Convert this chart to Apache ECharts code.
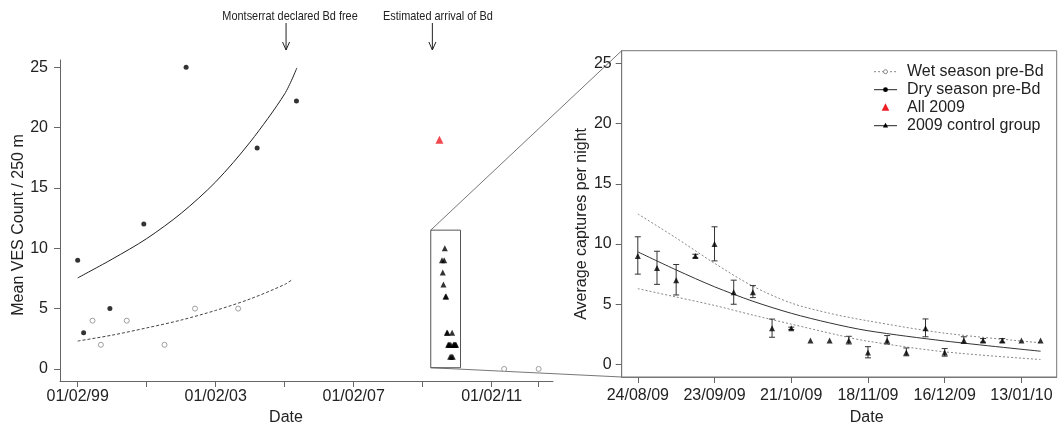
<!DOCTYPE html>
<html><head><meta charset="utf-8">
<script src="https://cdn.jsdelivr.net/npm/echarts@6/dist/echarts.min.js"></script>
<style>html,body{margin:0;padding:0;background:#fff}#c{width:1064px;height:431px}</style>
</head><body><div id="c"></div>
<script>
// ---------- Left panel data ----------
const dryDates = ['1999-02-01','1999-04-05','2000-01-08','2001-01-01','2002-03-25','2004-04-15','2005-06-05'];
const dryValues = [9, 3, 5, 12, 25, 18.3, 22.2];
const wetDates = ['1999-07-08','1999-10-05','2000-07-05','2001-08-08','2002-06-27','2003-09-27','2011-06-13','2012-06-12'];
const wetValues = [4, 2, 4, 2, 5, 5, 0, 0];
const dryFitDates = ['1999-02-01','2000-02-01','2001-02-01','2002-02-01','2003-02-01','2004-02-01','2005-02-01','2005-06-10'];
const dryFitValues = [7.54, 9.1, 10.8, 12.9, 15.5, 18.8, 22.8, 24.95];
const wetFitDates = ['1999-02-01','2000-02-01','2001-02-01','2002-02-01','2003-02-01','2004-02-01','2005-02-01','2005-04-20'];
const wetFitValues = [2.31, 2.8, 3.4, 4.05, 4.85, 5.8, 7.0, 7.4];
const all2009Dates = ['2009-07-28'];
const all2009Values = [19];
const leftTickDates = ['1999-02-01','2001-02-01','2003-02-01','2005-02-01','2007-02-01','2009-02-01','2011-02-01','2012-06-12'];
const leftLabelDates = ['1999-02-01','2003-02-01','2007-02-01','2011-02-01'];
const leftLabels = ['01/02/99','01/02/03','01/02/07','01/02/11'];
const leftYTicks = [0, 5, 10, 15, 20, 25];
const eventNames = ['Montserrat declared Bd free', 'Estimated arrival of Bd'];
const eventDates = ['2005-02-15', '2009-05-14'];
const insetDates = ['2009-04-27', '2010-03-08'];
const insetValues = [0.1, 11.5];

// ---------- Right panel data (2009 control group) ----------
const ctrlDates = ['2009-08-24','2009-09-01','2009-09-08','2009-09-16','2009-09-23','2009-09-30','2009-10-07','2009-10-14',
  '2009-10-21','2009-10-28','2009-11-04','2009-11-11','2009-11-18','2009-11-25','2009-12-02','2009-12-09','2009-12-16',
  '2009-12-23','2009-12-30','2010-01-06','2010-01-13','2010-01-20'];
const ctrlIndex = [0,1,2,3,4,5,6,7,8,9,10,11,12,13,14,15,16,17,18,19,20,21];
const ctrlValues = [9, 8, 7, 9, 10, 6, 6, 3, 3, 2, 2, 2, 1, 2, 1, 3, 1, 2, 2, 2, 2, 2];
const ctrlLow  = [7.5, 6.65, 5.77, 8.85, 8.6, 5.0, 5.55, 2.26, 2.9, null, null, 1.7, 0.55, 1.7, 0.72, 2.3, 0.69, 1.75, 1.85, 1.85, null, null];
const ctrlHigh = [10.6, 9.4, 8.3, 9.15, 11.43, 7.0, 6.55, 3.77, 3.1, null, null, 2.34, 1.48, 2.4, 1.37, 3.78, 1.32, 2.3, 2.15, 2.15, null, null];
const rightTickIdx = [0, 4, 8, 12, 16, 20];
const rightLabels = ['24/08/09','23/09/09','21/10/09','18/11/09','16/12/09','13/01/10'];
const rightYTicks = [0, 5, 10, 15, 20, 25];
const fitMidIdx = [0, 2, 4, 6, 8, 10, 12, 16, 21];
const fitMidValues = [9.35, 7.85, 6.45, 5.25, 4.25, 3.45, 2.8, 1.95, 1.1];
const fitUpIdx = [0, 2, 4, 6, 8, 10, 12, 16, 21];
const fitUpValues = [12.5, 10.5, 8.4, 6.5, 5.1, 4.25, 3.62, 2.6, 1.8];
const fitLoIdx = [0, 2, 4, 6, 8, 10.5, 12, 16, 21];
const fitLoValues = [6.3, 5.6, 4.9, 4.1, 3.35, 2.42, 1.93, 1.05, 0.41];

const legendNames = ['Wet season pre-Bd', 'Dry season pre-Bd', 'All 2009', '2009 control group'];

const FONT = '"Liberation Sans", Arial, sans-serif';
const ts = s => { const p = s.split('-').map(Number); return Date.UTC(p[0], p[1] - 1, p[2]); };
const zip = (a, b) => a.map((v, i) => [v, b[i]]);
const AX = '#666';

const chart = echarts.init(document.getElementById('c'), null, {renderer: 'canvas'});

const errData = [];
ctrlIndex.forEach((x, i) => { if (ctrlLow[i] != null) errData.push([x, ctrlLow[i], ctrlHigh[i]]); });

const leftLabelTs = leftLabelDates.map(ts);

const option = {
  animation: false,
  backgroundColor: '#fff',
  grid: [
    {left: 60, top: 60, width: 493, height: 323, show: false},
    {left: 621.7, top: 50.7, width: 435, height: 328.6, show: true, borderColor: '#777', borderWidth: 1, backgroundColor: 'transparent'}
  ],
  xAxis: [
    {
      type: 'value', gridIndex: 0, min: ts('1998-07-29'), max: ts('2012-11-11'),
      axisLine: {show: true, onZero: false, lineStyle: {color: AX, width: 1}},
      axisTick: {show: true, length: 6, lineStyle: {color: AX}, customValues: leftTickDates.map(ts)},
      axisLabel: {show: true, margin: 8, fontSize: 16, color: '#222', fontFamily: FONT,
        customValues: leftLabelTs,
        formatter: v => { const k = leftLabelTs.indexOf(v); return k >= 0 ? leftLabels[k] : ''; }},
      splitLine: {show: false},
      name: 'Date', nameLocation: 'middle', nameGap: 29,
      nameTextStyle: {fontSize: 16, color: '#222', fontFamily: FONT, padding: [0, 41, 0, 0]}
    },
    {
      type: 'value', gridIndex: 1, min: -0.84, max: 21.84,
      axisLine: {show: true, onZero: false, lineStyle: {color: '#777', width: 1}},
      axisTick: {show: true, length: 6, lineStyle: {color: AX}, customValues: rightTickIdx},
      axisLabel: {show: true, margin: 11, fontSize: 16, color: '#222', fontFamily: FONT,
        customValues: rightTickIdx,
        formatter: v => { const k = rightTickIdx.indexOf(v); return k >= 0 ? rightLabels[k] : ''; }},
      splitLine: {show: false},
      name: 'Date', nameLocation: 'middle', nameGap: 33,
      nameTextStyle: {fontSize: 16, color: '#222', fontFamily: FONT, padding: [0, 0, 0, 55]}
    }
  ],
  yAxis: [
    {
      type: 'value', gridIndex: 0, min: -1.0, max: 25.6,
      axisLine: {show: true, onZero: false, lineStyle: {color: AX, width: 1}},
      axisTick: {show: true, length: 6, lineStyle: {color: AX}, customValues: leftYTicks},
      axisLabel: {show: true, margin: 12, fontSize: 16, color: '#222', fontFamily: FONT, customValues: leftYTicks},
      splitLine: {show: false},
      name: 'Mean VES Count / 250 m', nameLocation: 'middle', nameRotate: 90, nameGap: 31,
      nameTextStyle: {fontSize: 16, color: '#222', fontFamily: FONT, padding: [0, 9, 0, 0]}
    },
    {
      type: 'value', gridIndex: 1, min: -1.04, max: 26.05,
      axisLine: {show: true, onZero: false, lineStyle: {color: '#777', width: 1}},
      axisTick: {show: true, length: 6, lineStyle: {color: AX}, customValues: rightYTicks},
      axisLabel: {show: true, margin: 10, fontSize: 16, color: '#222', fontFamily: FONT, customValues: rightYTicks},
      splitLine: {show: false},
      name: 'Average captures per night', nameLocation: 'middle', nameRotate: 90, nameGap: 32,
      nameTextStyle: {fontSize: 16, color: '#222', fontFamily: FONT, padding: [0, 20, 0, 0]}
    }
  ],
  series: [
    {type: 'line', name: 'dryFit', xAxisIndex: 0, yAxisIndex: 0, data: zip(dryFitDates.map(ts), dryFitValues),
      smooth: 0.3, symbol: 'none', lineStyle: {color: '#222', width: 1}, z: 2},
    {type: 'line', name: 'wetFit', xAxisIndex: 0, yAxisIndex: 0, data: zip(wetFitDates.map(ts), wetFitValues),
      smooth: 0.3, symbol: 'none', lineStyle: {color: '#444', width: 1, type: [3, 2]}, z: 2},
    {type: 'scatter', name: legendNames[1], xAxisIndex: 0, yAxisIndex: 0, data: zip(dryDates.map(ts), dryValues),
      symbol: 'circle', symbolSize: 5, itemStyle: {color: '#000'}, z: 3},
    {type: 'scatter', name: legendNames[0], xAxisIndex: 0, yAxisIndex: 0, data: zip(wetDates.map(ts), wetValues),
      symbol: 'circle', symbolSize: 5, itemStyle: {color: '#fff', borderColor: '#888', borderWidth: 1}, z: 3},
    {type: 'scatter', name: legendNames[2], xAxisIndex: 0, yAxisIndex: 0, data: zip(all2009Dates.map(ts), all2009Values),
      symbol: 'triangle', symbolSize: 8, itemStyle: {color: '#ee1c24'}, z: 3},
    {type: 'scatter', name: 'ctrlLeft', xAxisIndex: 0, yAxisIndex: 0, data: zip(ctrlDates.map(ts), ctrlValues),
      symbol: 'triangle', symbolSize: 6, itemStyle: {color: '#000'}, z: 3,
      markArea: {silent: true, itemStyle: {color: 'rgba(0,0,0,0)', borderColor: '#555', borderWidth: 1},
        data: [[{xAxis: ts(insetDates[0]), yAxis: insetValues[0]}, {xAxis: ts(insetDates[1]), yAxis: insetValues[1]}]]}},
    // right panel
    {type: 'line', name: 'upper', xAxisIndex: 1, yAxisIndex: 1, data: zip(fitUpIdx, fitUpValues),
      smooth: 0.3, symbol: 'none', lineStyle: {color: '#888', width: 1, type: [2, 2]}, z: 2},
    {type: 'line', name: 'lower', xAxisIndex: 1, yAxisIndex: 1, data: zip(fitLoIdx, fitLoValues),
      smooth: 0.3, symbol: 'none', lineStyle: {color: '#888', width: 1, type: [2, 2]}, z: 2},
    {type: 'line', name: 'mid', xAxisIndex: 1, yAxisIndex: 1, data: zip(fitMidIdx, fitMidValues),
      smooth: 0.3, symbol: 'none', lineStyle: {color: '#333', width: 1}, z: 2},
    {type: 'custom', name: 'err', xAxisIndex: 1, yAxisIndex: 1, data: errData, z: 3,
      renderItem: (params, api) => {
        const x = api.value(0), lo = api.value(1), hi = api.value(2);
        const p1 = api.coord([x, lo]), p2 = api.coord([x, hi]);
        const w = 3, st = {stroke: '#333', lineWidth: 1};
        return {type: 'group', children: [
          {type: 'line', shape: {x1: p1[0], y1: p1[1], x2: p2[0], y2: p2[1]}, style: st},
          {type: 'line', shape: {x1: p1[0] - w, y1: p1[1], x2: p1[0] + w, y2: p1[1]}, style: st},
          {type: 'line', shape: {x1: p2[0] - w, y1: p2[1], x2: p2[0] + w, y2: p2[1]}, style: st}
        ]};
      }},
    {type: 'scatter', name: legendNames[3], xAxisIndex: 1, yAxisIndex: 1, data: zip(ctrlIndex, ctrlValues),
      symbol: 'triangle', symbolSize: 6, itemStyle: {color: '#000'}, z: 4}
  ]
};
chart.setOption(option);

// ---------- overlay: arrows, connectors, legend ----------
const g = [];
eventDates.forEach((d, i) => {
  const x = chart.convertToPixel({xAxisIndex: 0}, ts(d));
  g.push({type: 'text', x: x + (i === 0 ? 4 : 5.5), y: 16, scaleX: 0.84,
    style: {text: eventNames[i], font: '13px ' + FONT, fill: '#222', align: 'center', verticalAlign: 'middle'}});
  g.push({type: 'line', shape: {x1: x, y1: 23, x2: x, y2: 50}, style: {stroke: '#222', lineWidth: 1}});
  g.push({type: 'polyline', shape: {points: [[x - 3.5, 42], [x, 50], [x + 3.5, 42]]}, style: {stroke: '#222', lineWidth: 1, fill: null}});
});
const bTL = chart.convertToPixel({xAxisIndex: 0, yAxisIndex: 0}, [ts(insetDates[0]), insetValues[1]]);
const bBL = chart.convertToPixel({xAxisIndex: 0, yAxisIndex: 0}, [ts(insetDates[0]), insetValues[0]]);
const rTL = chart.convertToPixel({xAxisIndex: 1, yAxisIndex: 1}, [-0.84, 26.05]);
const rBL = chart.convertToPixel({xAxisIndex: 1, yAxisIndex: 1}, [-0.84, -1.04]);
g.push({type: 'line', shape: {x1: bTL[0], y1: bTL[1], x2: rTL[0], y2: rTL[1]}, style: {stroke: '#777', lineWidth: 1}});
g.push({type: 'line', shape: {x1: bBL[0], y1: bBL[1], x2: rBL[0], y2: rBL[1]}, style: {stroke: '#777', lineWidth: 1}});

const lgX = 874, lgW = 23, lgTx = 907, lgY0 = 71.7, lgDy = 18;
legendNames.forEach((n, i) => {
  const y = lgY0 + i * lgDy, cx = lgX + lgW / 2;
  if (i === 0) {
    g.push({type: 'line', shape: {x1: lgX, y1: y, x2: lgX + lgW, y2: y}, style: {stroke: '#888', lineWidth: 1, lineDash: [2, 2]}});
    g.push({type: 'circle', shape: {cx: cx, cy: y, r: 2}, style: {stroke: '#888', fill: '#fff', lineWidth: 1}});
  } else if (i === 1) {
    g.push({type: 'line', shape: {x1: lgX, y1: y, x2: lgX + lgW, y2: y}, style: {stroke: '#222', lineWidth: 1}});
    g.push({type: 'circle', shape: {cx: cx, cy: y, r: 2.4}, style: {fill: '#000'}});
  } else if (i === 2) {
    g.push({type: 'polygon', shape: {points: [[cx, y - 4.5], [cx + 3.8, y + 3], [cx - 3.8, y + 3]]}, style: {fill: '#ee1c24'}});
  } else {
    g.push({type: 'line', shape: {x1: lgX, y1: y, x2: lgX + lgW, y2: y}, style: {stroke: '#222', lineWidth: 1}});
    g.push({type: 'polygon', shape: {points: [[cx, y - 3], [cx + 2.6, y + 1.8], [cx - 2.6, y + 1.8]]}, style: {fill: '#000'}});
  }
  g.push({type: 'text', x: lgTx, y: y, style: {text: n, font: '16px ' + FONT, fill: '#222', align: 'left', verticalAlign: 'middle'}});
});
chart.setOption({graphic: {elements: g}});
</script>
</body></html>
